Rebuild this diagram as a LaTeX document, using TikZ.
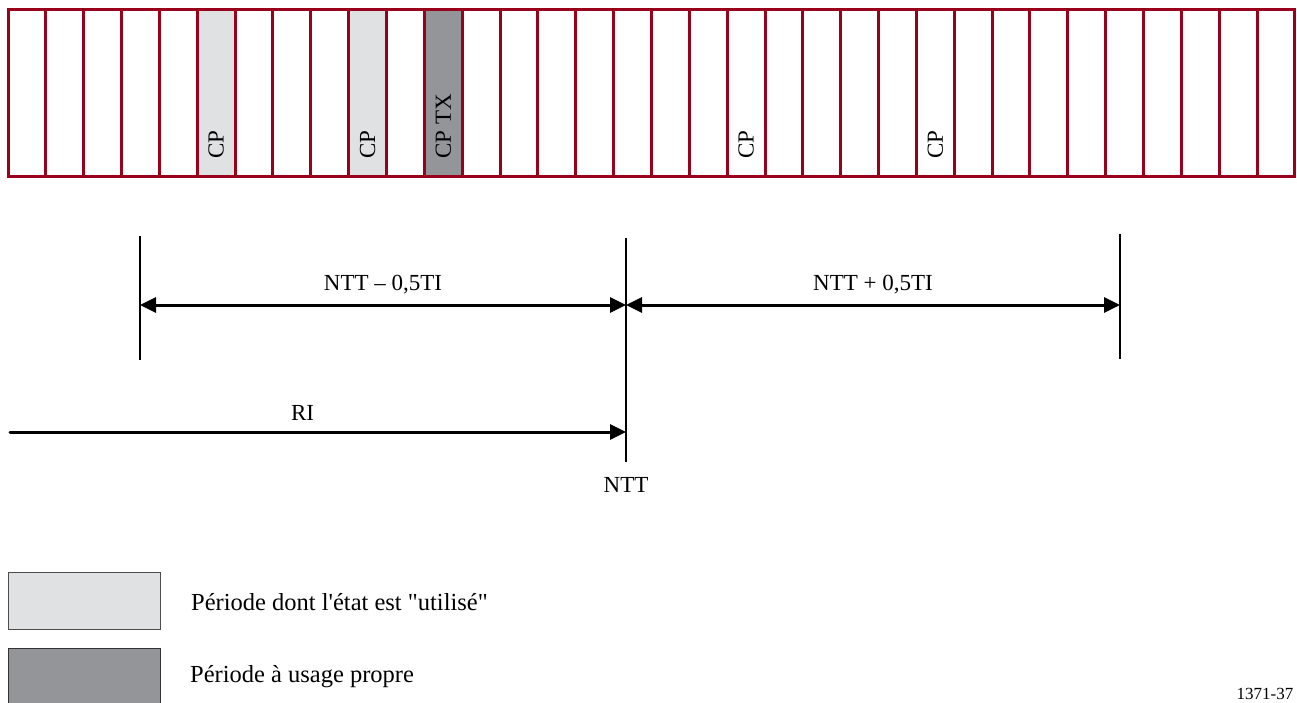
\documentclass[tikz,border=0pt]{standalone}
\usepackage{fontspec}
\setmainfont{Liberation Serif}[Ligatures=TeXOff]
\usetikzlibrary{arrows.meta,positioning,calc}
\definecolor{slotred}{RGB}{152,0,28}
\definecolor{usedgrey}{RGB}{224,225,227}
\definecolor{owngrey}{RGB}{147,149,152}

\begin{document}
\begin{tikzpicture}[x=1pt,y=-1pt,
  slot/.style={draw=slotred,line width=3pt,minimum width=37.85pt,minimum height=167pt,
               inner sep=0pt,outer sep=0pt,anchor=north west},
  cp/.style={rotate=90,anchor=west,inner sep=0pt,font=\fontsize{23}{26}\selectfont},
  lbl/.style={inner sep=0pt,font=\fontsize{23}{26}\selectfont},
  legtxt/.style={inner sep=0pt,font=\fontsize{24.5}{28}\selectfont,anchor=west},
  tick/.style={line width=2pt},
  dimar/.style={{Triangle[length=16pt,width=15pt]}-{Triangle[length=16pt,width=15pt]},line width=3pt},
  riar/.style={-{Triangle[length=16pt,width=15pt]},line width=3pt,line cap=round},
  legbox/.style={draw=black!70,line width=1pt,minimum width=152pt,minimum height=57pt,
                 inner sep=0pt,anchor=north west},
]
\useasboundingbox (0,0) rectangle (1297,702);
% ============ slot strip ============
\foreach \i in {1,...,34}{
  \node[slot] (s\i) at ({8+(\i-1)*37.85},9) {};
}
\fill[usedgrey] ([shift={(1.5pt,-1.5pt)}]s6.north west) rectangle ([shift={(-1.5pt,1.5pt)}]s6.south east);
\fill[usedgrey] ([shift={(1.5pt,-1.5pt)}]s10.north west) rectangle ([shift={(-1.5pt,1.5pt)}]s10.south east);
\fill[owngrey] ([shift={(1.5pt,-1.5pt)}]s12.north west) rectangle ([shift={(-1.5pt,1.5pt)}]s12.south east);
\node[cp] (cp6) at ([yshift=17pt]s6.south) {CP};
\node[cp] (cp10) at ([yshift=17pt]s10.south) {CP};
\node[cp] (cp12) at ([yshift=17pt]s12.south) {CP TX};
\node[cp] (cp20) at ([yshift=17pt]s20.south) {CP};
\node[cp] (cp25) at ([yshift=17pt]s25.south) {CP};
% ============ time marks ============
\coordinate (lt) at (140,236);
\coordinate (lb) at (140,360);
\coordinate (mt) at (626,238);
\coordinate (mb) at (626,462);
\coordinate (rt) at (1120,234);
\coordinate (rb) at (1120,359);
\coordinate (dimy) at (0,305);
\coordinate (riy) at (0,432);
\coordinate (ri0) at (10,432);
\draw[tick] (lt) -- (lb);
\draw[tick] (mt) -- (mb);
\draw[tick] (rt) -- (rb);
\draw[dimar] (lt|-dimy) -- node[lbl,above=9pt] (minus) {NTT – 0,5TI} (mt|-dimy);
\draw[dimar] (mt|-dimy) -- node[lbl,above=9pt] (plus) {NTT + 0,5TI} (rt|-dimy);
\draw[riar] (ri0) -- node[lbl,above=10pt,pos=.475] (ri) {RI} (mt|-riy);
\node[lbl,below=15pt of mb] (ntt) {NTT};
% ============ legend ============
\node[legbox,fill=usedgrey] (used) at (8,572) {};
\node[legbox,fill=owngrey,draw=black!80] (own) at (8,648) {};
\node[legtxt,right=30pt of used,yshift=-1pt] (usedtxt) {Période dont l'état est "utilisé"};
\node[legtxt,right=30pt of own.west,xshift=152pt,yshift=0pt] (owntxt) {Période à usage propre};
\node[inner sep=0pt,font=\fontsize{17}{20}\selectfont,anchor=south] (code) at (1265,700) {1371-37};
\end{tikzpicture}
\end{document}
